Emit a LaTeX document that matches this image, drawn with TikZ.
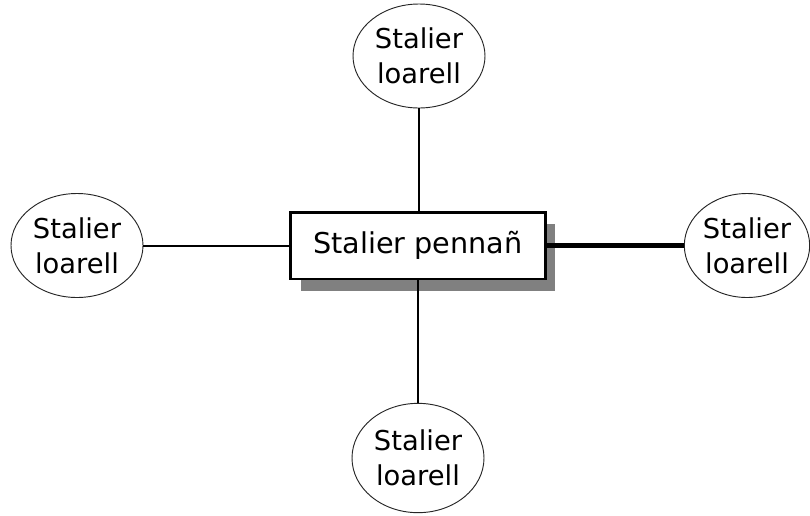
\documentclass[tikz,border=0pt]{standalone}
\usepackage{fontspec}
\setmainfont{DejaVu Sans}
\usetikzlibrary{shapes.geometric,shadows}
\tikzset{
  leaf/.style={ellipse, draw=black!85, line width=0.7pt, fill=white, inner sep=0pt,
    minimum width=99pt, minimum height=78pt, align=center,
    font=\fontsize{20.5}{26}\selectfont},
  center/.style={rectangle, draw=black, line width=2pt, fill=white,
    minimum width=191pt, minimum height=50pt, inner sep=0pt,
    font=\fontsize{21.5}{26}\selectfont,
    general shadow={fill=black!50, shadow xshift=7.5pt, shadow yshift=-9pt}},
  thin/.style={line width=1.5pt},
  thick/.style={line width=3.2pt}
}
\begin{document}
\begin{tikzpicture}[x=0.75pt,y=-0.75pt]
\useasboundingbox (0,0) rectangle (810,515);
\node[center] (c) at (418,245.5) {Stalier pennañ};
\node[leaf] (top) at (419,56) {Stalier\\loarell};
\node[leaf] (left) at (77,245.5) {Stalier\\loarell};
\node[leaf, minimum width=94pt] (right) at (747,245.5) {Stalier\\loarell};
\node[leaf, minimum height=82pt] (bot) at (418,458) {Stalier\\loarell};
\draw[thin] (top.south) -- (top.south |- c.north);
\draw[thin] (bot.north) -- (bot.north |- c.south);
\draw[thin] (left.east) -- (c.west);
\draw[thick] (c.east) -- (right.west);
\end{tikzpicture}
\end{document}
